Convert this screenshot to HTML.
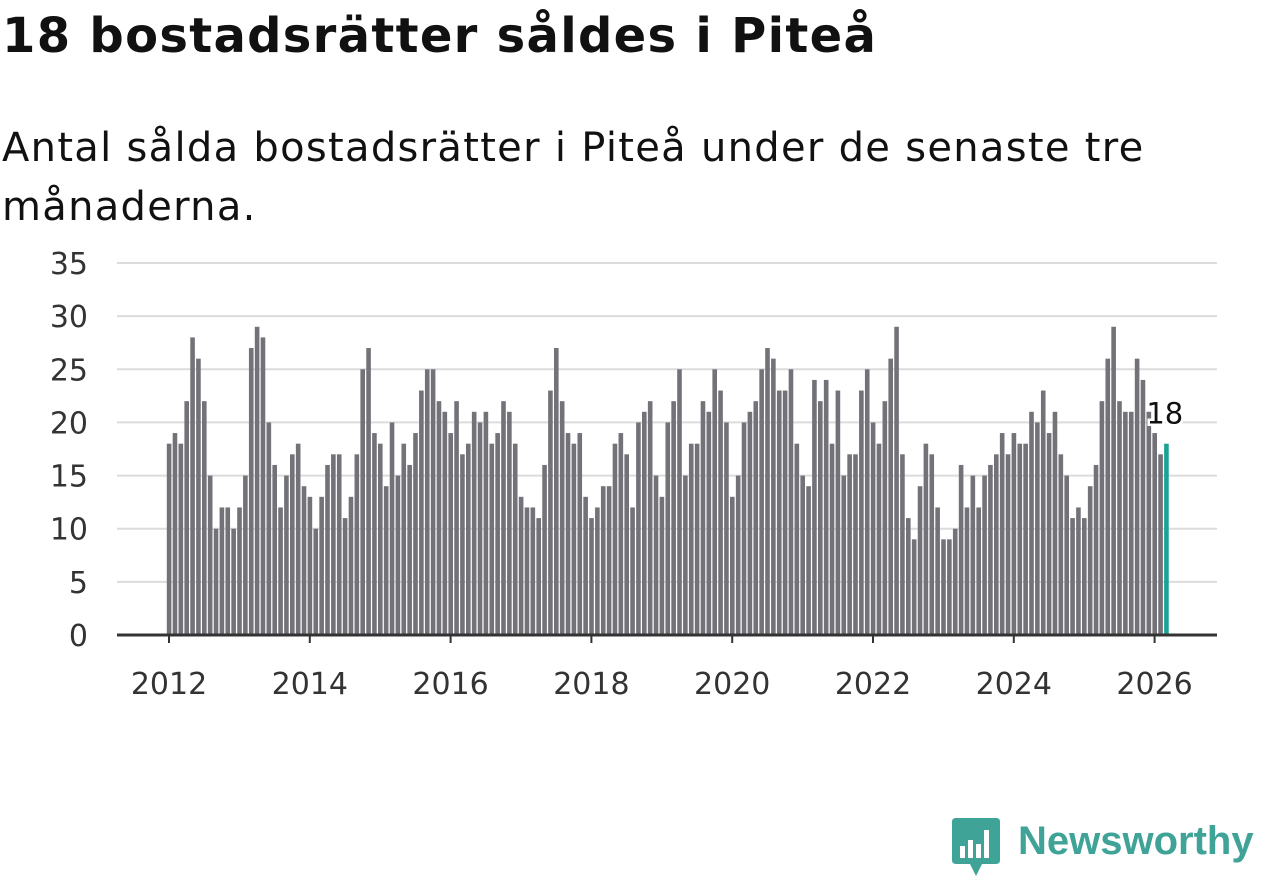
<!DOCTYPE html>
<html><head><meta charset="utf-8"><style>
body{margin:0;width:1262px;height:879px;background:#fff;font-family:"DejaVu Sans","Liberation Sans",sans-serif;overflow:hidden;position:relative}
h1{position:absolute;left:2px;top:8px;margin:0;font-size:48px;letter-spacing:1.3px;font-weight:bold;color:#111;white-space:nowrap}
p{position:absolute;left:2px;top:119px;margin:0;font-size:40px;letter-spacing:1.3px;line-height:59px;color:#111;width:1200px}
svg{position:absolute;left:0;top:0}
</style></head><body>
<h1>18 bostadsrätter såldes i Piteå</h1>
<p>Antal sålda bostadsrätter i Piteå under de senaste tre månaderna.</p>
<svg width="1262" height="879" id="chart"></svg>
<script>
const years=[2012,2013,2014,2015,2016,2017,2018,2019,2020,2021,2022,2023,2024,2025,2026];
const yTicks=[0,5,10,15,20,25,30,35];
const xTicks=[2012,2014,2016,2018,2020,2022,2024,2026];
const values2012=[18,19,18,22,28,26,22,15,10,12,12,10];
const values2013=[12,15,27,29,28,20,16,12,15,17,18,14];
const values2014=[13,10,13,16,17,17,11,13,17,25,27,19];
const values2015=[18,14,20,15,18,16,19,23,25,25,22,21];
const values2016=[19,22,17,18,21,20,21,18,19,22,21,18];
const values2017=[13,12,12,11,16,23,27,22,19,18,19,13];
const values2018=[11,12,14,14,18,19,17,12,20,21,22,15];
const values2019=[13,20,22,25,15,18,18,22,21,25,23,20];
const values2020=[13,15,20,21,22,25,27,26,23,23,25,18];
const values2021=[15,14,24,22,24,18,23,15,17,17,23,25];
const values2022=[20,18,22,26,29,17,11,9,14,18,17,12];
const values2023=[9,9,10,16,12,15,12,15,16,17,19,17];
const values2024=[19,18,18,21,20,23,19,21,17,15,11,12];
const values2025=[11,14,16,22,26,29,22,21,21,26,24,21];
const values2026=[19,17,18];
const values=[].concat(values2012,values2013,values2014,values2015,values2016,values2017,values2018,values2019,values2020,values2021,values2022,values2023,values2024,values2025,values2026);
const NS="http://www.w3.org/2000/svg";
const svg=document.getElementById('chart');
const y0=635,yTop=263,yMax=35;
const yS=v=>y0-(v/yMax)*(y0-yTop);
const x2012=169,perYear=70.4;
const xS=t=>x2012+(t-2012)*perYear;
const FF='DejaVu Sans, Liberation Sans, sans-serif';
function mk(tag,attrs){const e=document.createElementNS(NS,tag);for(const k in attrs)e.setAttribute(k,attrs[k]);svg.appendChild(e);return e;}
yTicks.forEach(v=>{
  if(v>0){const l=mk('line',{x1:117,x2:1217,y1:yS(v),y2:yS(v),stroke:'#dcdcdc','stroke-width':2});
  
  }
  const t=mk('text',{x:88,y:yS(v)+11,'text-anchor':'end','font-size':30,fill:'#333','font-family':FF});
  t.textContent=v;
  
  
});
values.forEach((v,i)=>{
  const t=2012+i/12;
  const last=i===values.length-1;
  const r=mk('rect',{x:xS(t)-2.2,y:yS(v),width:4.6,height:y0-yS(v),fill:last?'#1aa394':'#727278'});
  
  
  if(last){
    const lb=mk('text',{x:xS(t)-20,y:yS(v)-20,'font-size':29,fill:'#111',stroke:'#fff','stroke-width':5,'paint-order':'stroke','font-family':FF});
    lb.textContent=v;
    
    
  }
});
const base=mk('line',{x1:117,x2:1217,y1:y0,y2:y0,stroke:'#333','stroke-width':3});


xTicks.forEach(yr=>{
  const tk=mk('line',{x1:xS(yr),x2:xS(yr),y1:y0,y2:y0+8,stroke:'#333','stroke-width':2});
  
  
  const t=mk('text',{x:xS(yr),y:694,'text-anchor':'middle','font-size':30,fill:'#333','font-family':FF});
  t.textContent=yr;
  
  
});
</script>
<div style="position:absolute;left:952px;top:818px;height:60px;">
 <svg width="50" height="62" style="position:absolute;left:0;top:0">
  <path d="M0 4 Q0 0 4 0 H44 Q48 0 48 4 V42 Q48 46 44 46 H30 L24 58 L18 46 H4 Q0 46 0 42Z" fill="#3fa398"/>
  <rect x="8" y="28" width="5" height="12" fill="#fff"/><rect x="16" y="22" width="5" height="18" fill="#fff"/><rect x="24" y="26" width="5" height="14" fill="#fff"/><rect x="32" y="12" width="5" height="28" fill="#fff"/>
 </svg>
 <span style="position:absolute;left:66px;top:1px;font-size:40px;font-weight:bold;color:#3fa398;white-space:nowrap;font-family:'Liberation Sans',sans-serif">Newsworthy</span>
</div>
</body></html>
